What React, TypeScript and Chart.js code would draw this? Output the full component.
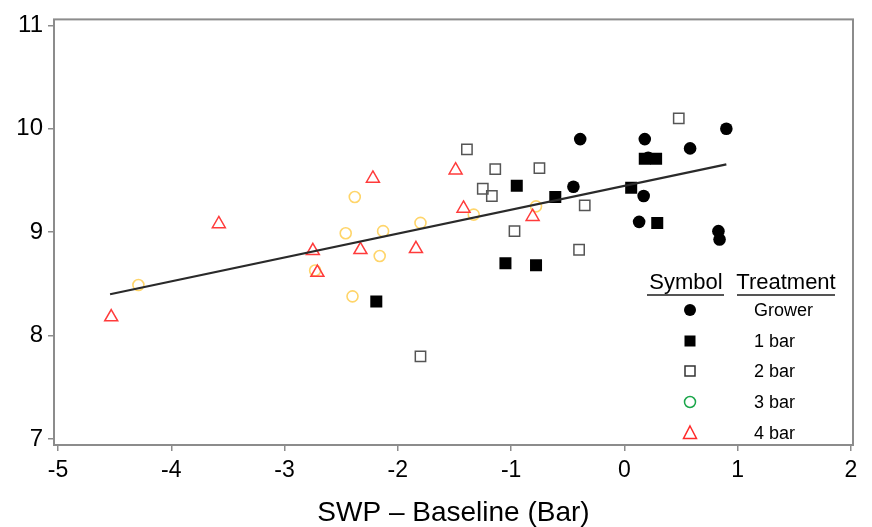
import React, { useEffect, useRef } from "react";
import { Chart, registerables } from "chart.js";

Chart.register(...registerables);

// ---- data ----
const growerX = [-0.45, -0.39, 0.13, 0.17, 0.18, 0.21, 0.58, 0.83, 0.84, 0.9];
const growerY = [9.44, 9.9, 9.1, 9.35, 9.9, 9.72, 9.81, 9.01, 8.93, 10.0];

const bar1X = [-2.19, -1.05, -0.95, -0.78, -0.61, 0.06, 0.18, 0.28, 0.29];
const bar1Y = [8.33, 8.7, 9.45, 8.68, 9.34, 9.43, 9.71, 9.71, 9.09];

const bar2X = [-1.8, -1.39, -1.25, -1.17, -1.14, -0.97, -0.75, -0.4, -0.35, 0.48];
const bar2Y = [7.8, 9.8, 9.42, 9.35, 9.61, 9.01, 9.62, 8.83, 9.26, 10.1];

const bar3X = [-4.29, -2.73, -2.46, -2.4, -2.38, -2.16, -2.13, -1.8, -1.33, -0.78];
const bar3Y = [8.49, 8.63, 8.99, 8.38, 9.34, 8.77, 9.01, 9.09, 9.17, 9.25];

const bar4X = [-4.53, -3.58, -2.75, -2.71, -2.33, -2.22, -1.84, -1.49, -1.42, -0.81];
const bar4Y = [8.18, 9.08, 8.82, 8.61, 8.83, 9.52, 8.84, 9.6, 9.23, 9.15];

const fitX = [-4.54, 0.9];
const fitY = [8.4, 9.655];

const xTicks = [-5, -4, -3, -2, -1, 0, 1, 2];
const yTicks = [7, 8, 9, 10, 11];

const legendTitles = ["Symbol", "Treatment"];
const legendLabels = ["Grower", "1 bar", "2 bar", "3 bar", "4 bar"];

const xTitle = "SWP \u2013 Baseline (Bar)";

const FONT = "'Liberation Sans', Arial, sans-serif";

const pts = (xs: number[], ys: number[]) => xs.map((x, i) => ({ x, y: ys[i] }));

const framePlugin = {
  id: "frame",
  beforeDatasetsDraw(chart: any) {
    const { ctx, chartArea: a } = chart;
    ctx.save();
    ctx.strokeStyle = "#8c8c8c";
    ctx.lineWidth = 2;
    ctx.strokeRect(a.left, a.top, a.right - a.left, a.bottom - a.top);
    ctx.restore();
  },
};

function drawMarker(ctx: CanvasRenderingContext2D, kind: number, x: number, y: number) {
  ctx.save();
  ctx.lineWidth = 1.5;
  if (kind === 0) {
    ctx.fillStyle = "#000";
    ctx.beginPath();
    ctx.arc(x, y, 6, 0, Math.PI * 2);
    ctx.fill();
  } else if (kind === 1) {
    ctx.fillStyle = "#000";
    ctx.fillRect(x - 5.5, y - 5.5, 11, 11);
  } else if (kind === 2) {
    ctx.strokeStyle = "#333";
    ctx.strokeRect(x - 5, y - 5, 10, 10);
  } else if (kind === 3) {
    ctx.strokeStyle = "#1aa64a";
    ctx.beginPath();
    ctx.arc(x, y, 5.5, 0, Math.PI * 2);
    ctx.stroke();
  } else {
    ctx.strokeStyle = "#ff2a2a";
    ctx.beginPath();
    ctx.moveTo(x, y - 7);
    ctx.lineTo(x + 6.5, y + 5.5);
    ctx.lineTo(x - 6.5, y + 5.5);
    ctx.closePath();
    ctx.stroke();
  }
  ctx.restore();
}

const legendPlugin = {
  id: "customLegend",
  afterDraw(chart: any) {
    const ctx: CanvasRenderingContext2D = chart.ctx;
    ctx.save();
    ctx.fillStyle = "#000";
    ctx.font = `22px ${FONT}`;
    ctx.textBaseline = "alphabetic";
    ctx.textAlign = "center";
    ctx.fillText(legendTitles[0], 686, 289);
    ctx.fillText(legendTitles[1], 786, 289);
    ctx.strokeStyle = "#555";
    ctx.lineWidth = 2;
    ctx.beginPath();
    ctx.moveTo(647, 295);
    ctx.lineTo(724, 295);
    ctx.moveTo(737, 295);
    ctx.lineTo(835, 295);
    ctx.stroke();
    const rows = [310, 341, 371, 402, 433];
    ctx.font = `18px ${FONT}`;
    ctx.textAlign = "left";
    ctx.textBaseline = "middle";
    legendLabels.forEach((lab, i) => {
      drawMarker(ctx, i, 690, rows[i]);
      ctx.fillStyle = "#000";
      ctx.fillText(lab, 754, rows[i] + 1);
    });
    ctx.restore();
  },
};

export default function App() {
  const ref = useRef<HTMLCanvasElement>(null);
  useEffect(() => {
    if (!ref.current) return;
    const chart = new Chart(ref.current, {
      type: "scatter",
      data: {
        datasets: [
          {
            label: "fit",
            data: pts(fitX, fitY),
            showLine: true,
            borderColor: "#2a2a2a",
            borderWidth: 2.2,
            pointRadius: 0,
            fill: false,
          },
          {
            label: "4 bar",
            data: pts(bar4X, bar4Y),
            pointStyle: "triangle",
            pointRadius: 7.5,
            borderWidth: 1.5,
            borderColor: "#ff3b3b",
            backgroundColor: "rgba(0,0,0,0)",
          },
          {
            label: "3 bar",
            data: pts(bar3X, bar3Y),
            pointStyle: "circle",
            pointRadius: 5.5,
            borderWidth: 1.6,
            borderColor: "#ffd56a",
            backgroundColor: "rgba(0,0,0,0)",
          },
          {
            label: "2 bar",
            data: pts(bar2X, bar2Y),
            pointStyle: "rect",
            pointRadius: 7.3,
            borderWidth: 1.5,
            borderColor: "#555",
            backgroundColor: "rgba(0,0,0,0)",
          },
          {
            label: "1 bar",
            data: pts(bar1X, bar1Y),
            pointStyle: "rect",
            pointRadius: 8.5,
            borderWidth: 0,
            borderColor: "#000",
            backgroundColor: "#000",
          },
          {
            label: "Grower",
            data: pts(growerX, growerY),
            pointStyle: "circle",
            pointRadius: 6.3,
            borderWidth: 0,
            borderColor: "#000",
            backgroundColor: "#000",
          },
        ],
      },
      options: {
        animation: false,
        responsive: false,
        events: [],
        layout: { padding: { top: 11, right: 19, left: 0, bottom: 0 } },
        plugins: { legend: { display: false }, tooltip: { enabled: false } },
        scales: {
          x: {
            type: "linear",
            min: -5.035,
            max: 2.018,
            afterBuildTicks: (s: any) => {
              s.ticks = xTicks.map((v) => ({ value: v }));
            },
            afterFit: (s: any) => {
              s.height = 82;
            },
            border: { display: false },
            grid: {
              drawOnChartArea: false,
              drawTicks: true,
              tickLength: 6,
              color: "#8c8c8c",
              lineWidth: 1.5,
            },
            ticks: {
              color: "#000",
              font: { family: FONT, size: 23 },
              padding: 6,
              maxRotation: 0,
              autoSkip: false,
            },
            title: {
              display: true,
              text: xTitle,
              color: "#000",
              font: { family: FONT, size: 28, lineHeight: 1 },
              padding: { top: 0, bottom: 0 },
            },
          },
          y: {
            type: "linear",
            min: 6.943,
            max: 11.057,
            afterBuildTicks: (s: any) => {
              s.ticks = yTicks.map((v) => ({ value: v }));
            },
            afterFit: (s: any) => {
              s.width = 54;
            },
            border: { display: false },
            grid: {
              drawOnChartArea: false,
              drawTicks: true,
              tickLength: 6,
              color: "#8c8c8c",
              lineWidth: 1.5,
            },
            ticks: {
              color: "#000",
              font: { family: FONT, size: 24 },
              padding: 5,
              autoSkip: false,
            },
          },
        },
      },
      plugins: [framePlugin, legendPlugin],
    } as any);
    return () => chart.destroy();
  }, []);
  return (
    <div style={{ position: "fixed", left: 0, top: 0, width: 872, height: 527, background: "#fff" }}>
      <canvas ref={ref} width={872} height={527} style={{ display: "block" }} />
    </div>
  );
}
